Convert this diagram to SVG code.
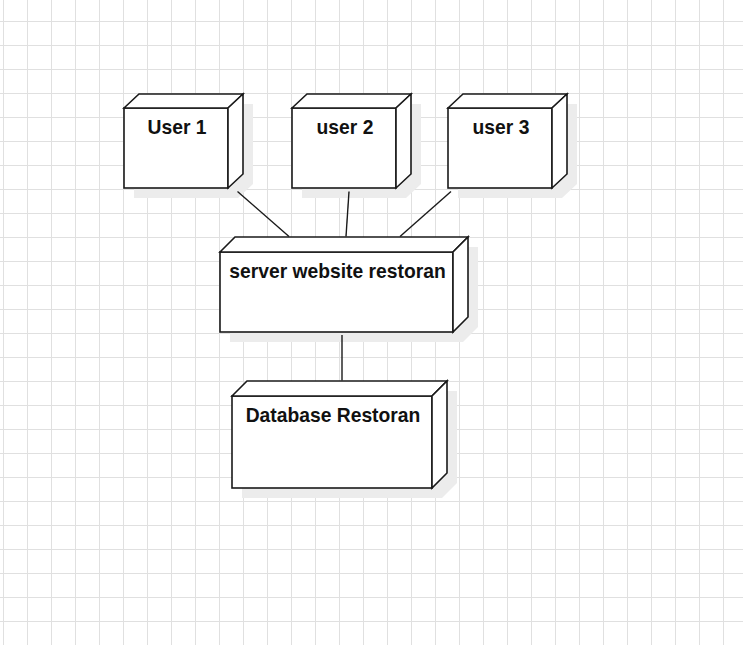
<svg xmlns="http://www.w3.org/2000/svg" width="743" height="645" viewBox="0 0 743 645">
  <defs>
    <pattern id="grid" x="3" y="21" width="24" height="24" patternUnits="userSpaceOnUse">
      <rect x="0" y="0" width="24" height="1" fill="#e0e0e0"/>
      <rect x="0" y="0" width="1" height="24" fill="#e0e0e0"/>
    </pattern>
  </defs>
  <style>
    .shadow { fill: #ececec; stroke: none; }
    .face { fill: #ffffff; stroke: #1a1a1a; stroke-width: 1.6; stroke-linejoin: miter; }
    .label { font-family: "Liberation Sans", Arial, sans-serif; font-weight: bold; font-size: 19.3px; fill: #111111; text-anchor: middle; }
    .conn { stroke: #1a1a1a; stroke-width: 1.4; fill: none; }
  </style>
  <rect x="0" y="0" width="743" height="645" fill="#ffffff"/>
  <rect x="0" y="0" width="743" height="645" fill="url(#grid)"/>

  <g id="user1">
    <polygon class="shadow" points="134,118 149,104 253,104 253,184 238,198 134,198"/>
    <rect class="face" x="124" y="108" width="104" height="80"/>
    <polygon class="face" points="124,108 139,94 243,94 228,108"/>
    <polygon class="face" points="228,108 243,94 243,174 228,188"/>
    <text class="label" x="177" y="133.5">User 1</text>
  </g>

  <g id="user2">
    <polygon class="shadow" points="302,118 317,104 421,104 421,184 406,198 302,198"/>
    <rect class="face" x="292" y="108" width="104" height="80"/>
    <polygon class="face" points="292,108 307,94 411,94 396,108"/>
    <polygon class="face" points="396,108 411,94 411,174 396,188"/>
    <text class="label" x="345" y="133.5">user 2</text>
  </g>

  <g id="user3">
    <polygon class="shadow" points="458,118 473,104 577,104 577,184 562,198 458,198"/>
    <rect class="face" x="448" y="108" width="104" height="80"/>
    <polygon class="face" points="448,108 463,94 567,94 552,108"/>
    <polygon class="face" points="552,108 567,94 567,174 552,188"/>
    <text class="label" x="501" y="133.5">user 3</text>
  </g>

  <g id="server">
    <polygon class="shadow" points="230,262 245,247 478,247 478,327 463,342 230,342"/>
    <rect class="face" x="220" y="252" width="233" height="80"/>
    <polygon class="face" points="220,252 235,237 468,237 453,252"/>
    <polygon class="face" points="453,252 468,237 468,317 453,332"/>
    <text class="label" x="337.5" y="278">server website restoran</text>
  </g>

  <g id="database">
    <polygon class="shadow" points="242,406 257,391 457,391 457,483 442,498 242,498"/>
    <rect class="face" x="232" y="396" width="200" height="92"/>
    <polygon class="face" points="232,396 247,381 447,381 432,396"/>
    <polygon class="face" points="432,396 447,381 447,473 432,488"/>
    <text class="label" x="333" y="422">Database Restoran</text>
  </g>

  <g id="connectors">
    <line class="conn" x1="237.5" y1="191.5" x2="289" y2="236.5"/>
    <line class="conn" x1="349" y1="191.5" x2="346" y2="236.5"/>
    <line class="conn" x1="451" y1="191.5" x2="400" y2="236.5"/>
    <line class="conn" x1="342" y1="335" x2="342" y2="380.5"/>
  </g>
</svg>
